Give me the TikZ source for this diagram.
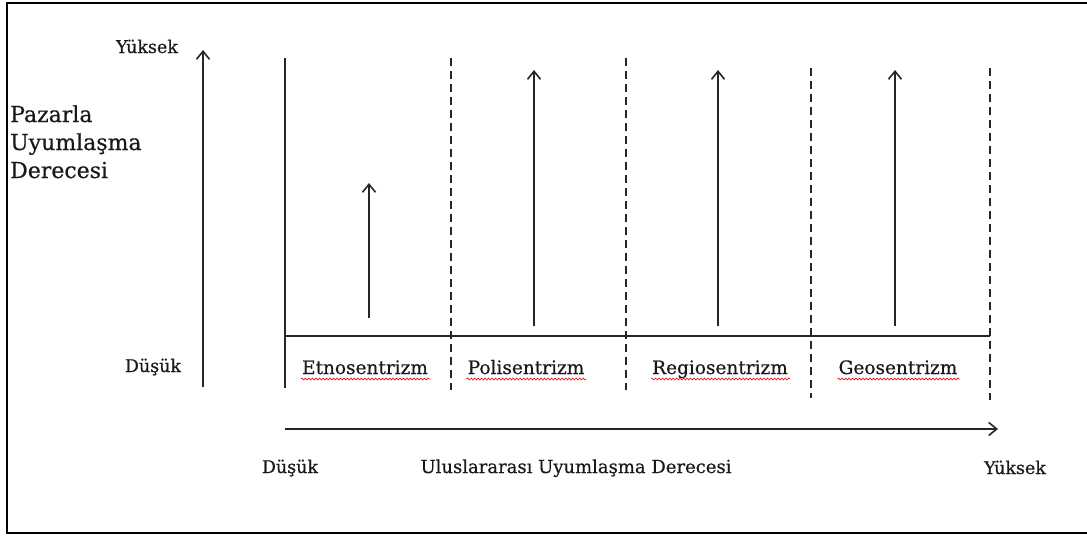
\documentclass[tikz,border=0pt]{standalone}
\usepackage{fontspec}
\setmainfont[FakeBold=0.5,AutoFakeBold=0.5]{DejaVu Serif}
\usetikzlibrary{arrows.meta,decorations.pathmorphing}
\begin{document}
\begin{tikzpicture}[x=1pt,y=-1pt,
  every node/.style={inner sep=0pt, text=black!90},
  axisline/.style={line width=1.6pt, draw=black!85, -{Straight Barb[length=8pt,width=13pt,line width=1.6pt]}},
  rule/.style={line width=1.6pt, draw=black!85},
  divider/.style={line width=1.6pt, draw=black!85, dash pattern=on 8pt off 5pt},
  endlabel/.style={anchor=base, font=\fontsize{17.5pt}{20pt}\selectfont\bfseries},
  strategy/.style={anchor=base, font=\fontsize{18.5pt}{22pt}\selectfont\bfseries},
  axistitle/.style={anchor=base, font=\fontsize{18pt}{22pt}\selectfont\bfseries},
  spell/.style={draw=red!90!black, line width=0.6pt, decorate,
    decoration={snake, amplitude=1pt, segment length=3.5pt}}
]
\useasboundingbox (0,0) rectangle (1087,536);

% frame (open on the right)
\draw[line width=2.6pt] (1095,3) -- (7,3) -- (7,533) -- (1095,533);

% vertical axis: market adaptation
\coordinate (vlow) at (203,387);
\coordinate (vhigh) at (203,50);
\draw[axisline] (vlow) -- (vhigh);
\node[endlabel] (vtop) at (147,53) {Yüksek};
\node[endlabel] (vbot) at (153,372) {Düşük};
\node[anchor=base west, align=left, font=\fontsize{22pt}{28pt}\selectfont\bfseries] (vtitle) at (10,178)
  {Pazarla\\Uyumlaşma\\Derecesi};

% frame of the strategy columns
\coordinate (c0top) at (285,58);
\coordinate (c0bot) at (285,388);
\coordinate (base0) at (285,336);
\coordinate (base4) at (990,336);
\draw[rule] (c0top) -- (c0bot);
\draw[rule] (base0) -- (base4);

\coordinate (c1top) at (451,58);  \coordinate (c1bot) at (451,390);
\coordinate (c2top) at (626,58);  \coordinate (c2bot) at (626,390);
\coordinate (c3top) at (811,68);  \coordinate (c3bot) at (811,398);
\coordinate (c4top) at (990,68);  \coordinate (c4bot) at (990,400);
\draw[divider] (c1top) -- (c1bot);
\draw[divider] (c2top) -- (c2bot);
\draw[divider] (c3top) -- (c3bot);
\draw[divider] (c4top) -- (c4bot);

% level of adaptation in each strategy
\coordinate (a1s) at (369,318); \coordinate (a1e) at (369,183);
\coordinate (a2s) at (534,326); \coordinate (a2e) at (534,70);
\coordinate (a3s) at (718,326); \coordinate (a3e) at (718,70);
\coordinate (a4s) at (895,326); \coordinate (a4e) at (895,70);
\draw[axisline] (a1s) -- (a1e);
\draw[axisline] (a2s) -- (a2e);
\draw[axisline] (a3s) -- (a3e);
\draw[axisline] (a4s) -- (a4e);

% strategy names
\node[strategy] (etno)  at (365,374) {Etnosentrizm};
\node[strategy] (poli)  at (526,374) {Polisentrizm};
\node[strategy] (regio) at (720,374) {Regiosentrizm};
\node[strategy] (geo)   at (898,374) {Geosentrizm};
\foreach \n in {etno,poli,regio,geo}
  \draw[spell] ([xshift=-1pt,yshift=-5pt]\n.base west) -- ([xshift=2pt,yshift=-5pt]\n.base east);

% horizontal axis: international adaptation
\coordinate (hlow) at (285,429);
\coordinate (hhigh) at (998,429);
\draw[axisline] (hlow) -- (hhigh);
\node[endlabel] (hlowlbl) at (290,473) {Düşük};
\node[axistitle] (htitle) at (576,473) {Uluslararası Uyumlaşma Derecesi};
\node[endlabel] (hhighlbl) at (1015,474) {Yüksek};
\end{tikzpicture}
\end{document}
